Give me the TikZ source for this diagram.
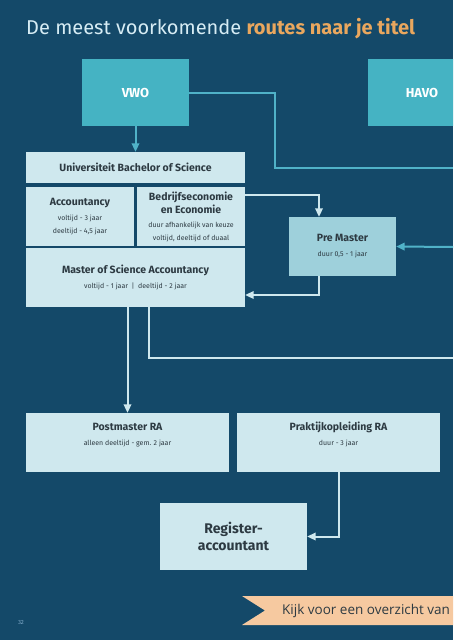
\documentclass[tikz,border=0pt]{standalone}
\usepackage{fontspec}
\setmainfont{Fira Sans}
\newfontfamily\bannerfont{Open Sans}
\usetikzlibrary{arrows.meta,calc}
\definecolor{pBg}{RGB}{20,73,105}
\definecolor{pLight}{RGB}{207,232,238}
\definecolor{pPre}{RGB}{158,208,219}
\definecolor{pTeal}{RGB}{69,179,195}
\definecolor{pTealLine}{RGB}{80,178,200}
\definecolor{pText}{RGB}{45,58,66}
\definecolor{pTitle}{RGB}{214,236,244}
\definecolor{pOrange}{RGB}{233,167,94}
\definecolor{pPeach}{RGB}{246,201,160}
\definecolor{pNum}{RGB}{127,169,200}
\tikzset{
  stage/.style={rectangle, fill=pLight, text=pText, align=center, inner sep=0pt,
                font=\fontsize{10.5}{13}\selectfont\bfseries},
  entry/.style={stage, fill=pTeal, text=white, font=\fontsize{13}{15}\selectfont\bfseries},
  bridge/.style={stage, fill=pPre},
  goal/.style={stage, font=\fontsize{14}{17}\selectfont\bfseries},
  flow/.style={-{Triangle[length=8.5pt,width=7.5pt]}, draw=pLight, line width=2pt},
  flowt/.style={flow, draw=pTealLine},
  link/.style={draw=pTealLine, line width=2pt},
  linkl/.style={draw=pLight, line width=2pt},
}
\newcommand{\dur}{\fontsize{7}{9}\selectfont\mdseries}

\begin{document}
\begin{tikzpicture}[x=1pt, y=-1pt]
  \clip (0,0) rectangle (453,640);
  \fill[pBg] (0,0) rectangle (453,640);

  % ===== title ===========================================================
  \node[anchor=base west, inner sep=0pt, text=pTitle, font=\fontsize{20}{23}\selectfont]
    (title) at (26,34) {De meest voorkomende \textcolor{pOrange}{\bfseries routes naar je titel}};

  % ===== entry levels ====================================================
  \node[entry, minimum width=107pt, minimum height=67pt] (vwo)  at (135.5,92.5) {VWO};
  \node[entry, minimum width=108pt, minimum height=67pt] (havo) at (422,92.5)  {HAVO};

  % ===== university block ================================================
  \node[stage, minimum width=219pt, minimum height=31pt] (bach) at (135.5,167.5)
    {Universiteit Bachelor of Science};
  \node[stage, minimum width=108pt, minimum height=59pt] (acc) at (80,216.5)
    {Accountancy\\[2pt]\dur voltijd - 3 jaar\\\dur deeltijd - 4,5 jaar};
  \node[stage, minimum width=108pt, minimum height=59pt] (bedr) at (191,216.5)
    {Bedrijfseconomie\\en Economie\\[1pt]\dur duur afhankelijk van keuze\\\dur voltijd, deeltijd of duaal};
  \node[stage, minimum width=219pt, minimum height=59pt] (msc) at (135.5,277.5)
    {Master of Science Accountancy\\[2pt]\dur voltijd - 1 jaar \ | \ deeltijd - 2 jaar};
  \node[bridge, minimum width=107pt, minimum height=59pt] (pre) at (342.5,246.5)
    {Pre Master\\[2pt]\dur duur 0,5 - 1 jaar};

  % ===== RA track ========================================================
  \node[stage, minimum width=203pt, minimum height=59pt, text depth=17pt] (post) at (127.5,442.5)
    {Postmaster RA\\[2pt]\dur alleen deeltijd - gem. 2 jaar};
  \node[stage, minimum width=203pt, minimum height=59pt, text depth=17pt] (prak) at (338.5,442.5)
    {Praktijkopleiding RA\\[2pt]\dur duur - 3 jaar};
  \node[goal, minimum width=147pt, minimum height=67pt] (reg) at (233.5,536.5)
    {Register-\\accountant};

  % ===== connectors ======================================================
  \coordinate (vwoout) at (453,168);
  \coordinate (havoin) at (453,247);
  \coordinate (mscout) at (453,358);
  \draw[flowt] (vwo.south) -- (bach.north);
  \draw[link] (vwo.east) -| (275,168) -- (vwoout);
  \draw[flow] (bedr.east |- 0,195) -| (pre.north -| 319,0);
  \draw[flowt] (havoin) -- (pre.east);
  \draw[flow] (pre.south -| 319,0) |- (msc.east |- 0,295);
  \draw[flow] (msc.south -| post.north) -- (post.north);
  \draw[linkl] (msc.south -| 149,0) |- (mscout);
  \draw[flow] (prak.south) |- (reg.east);

  % ===== footer ==========================================================
  \fill[pPeach] (242,596) -- (453,596) -- (453,625) -- (242,625) -- (265,610.5) -- cycle;
  \node[anchor=west, inner sep=0pt, text=pText, font=\bannerfont\fontsize{13.5}{16}\selectfont]
    (more) at (282,610.5) {Kijk voor een overzicht van};
  \node[text=pNum, font=\fontsize{6}{7}\selectfont, inner sep=0pt] (pagenr) at (21,622) {32};
\end{tikzpicture}
\end{document}
